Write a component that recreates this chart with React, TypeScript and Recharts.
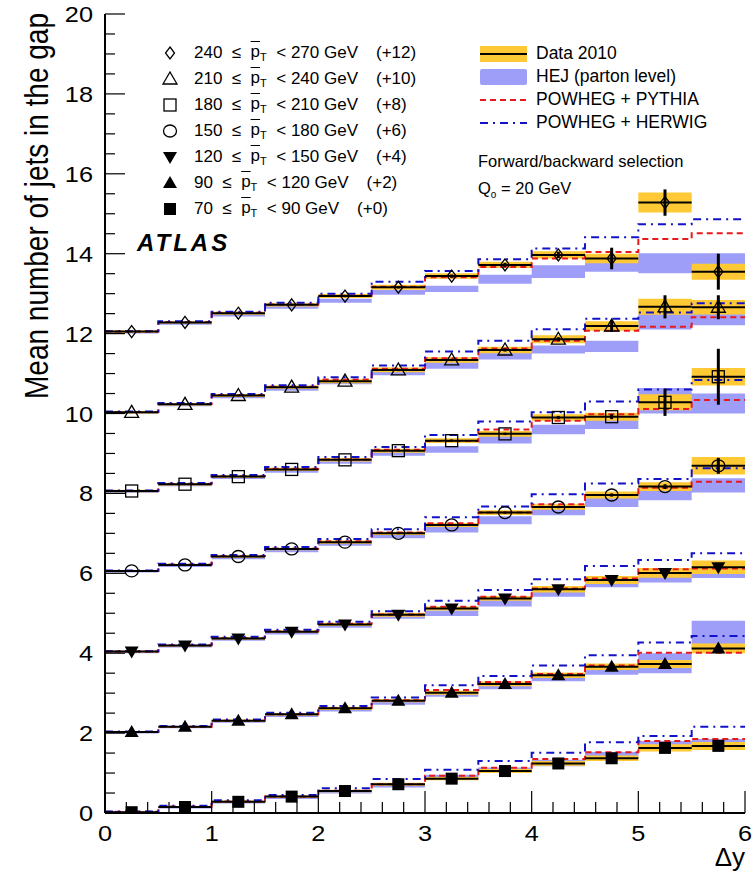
import React from "react";
import { ComposedChart, Area, Line, Scatter, ErrorBar, XAxis, YAxis } from "recharts";

// bins in rapidity separation
const binEdges = [0, 0.5, 1, 1.5, 2, 2.5, 3, 3.5, 4, 4.5, 5, 5.5, 6];
const binCenters = [0.25, 0.75, 1.25, 1.75, 2.25, 2.75, 3.25, 3.75, 4.25, 4.75, 5.25, 5.75];
const binHalfWidth = 0.25;

const xTicks = Array.from({ length: 31 }, (_, i) => Math.round(i * 2) / 10);
const yTicks = Array.from({ length: 41 }, (_, i) => i / 2);

// 70 <= pT < 90 GeV (+0)
const data70 = [0.02, 0.15, 0.28, 0.41, 0.55, 0.72, 0.86, 1.05, 1.24, 1.37, 1.63, 1.68];
const sys70 = [0.02, 0.02, 0.03, 0.03, 0.03, 0.04, 0.04, 0.05, 0.06, 0.07, 0.09, 0.1];
const stat70 = [0.01, 0.01, 0.01, 0.01, 0.01, 0.01, 0.02, 0.02, 0.02, 0.03, 0.03, 0.04];
const pythia70 = [0.03, 0.16, 0.29, 0.41, 0.56, 0.72, 0.93, 1.13, 1.35, 1.52, 1.8, 1.85];
const herwig70 = [0.04, 0.18, 0.32, 0.45, 0.62, 0.85, 1.08, 1.3, 1.51, 1.77, 1.93, 2.16];
const hej70 = [0.02, 0.14, 0.27, 0.39, 0.53, 0.69, 0.9, 1.07, 1.25, 1.45, 1.7, 1.75];
const hejErr70 = [0.03, 0.03, 0.03, 0.04, 0.04, 0.05, 0.06, 0.07, 0.08, 0.08, 0.1, 0.1];

// 90 <= pT < 120 GeV (+2)
const data90 = [0.03, 0.16, 0.31, 0.47, 0.62, 0.81, 1.01, 1.23, 1.45, 1.66, 1.73, 2.12];
const sys90 = [0.02, 0.02, 0.03, 0.03, 0.04, 0.04, 0.05, 0.06, 0.07, 0.08, 0.1, 0.12];
const stat90 = [0.01, 0.01, 0.01, 0.01, 0.01, 0.01, 0.02, 0.02, 0.02, 0.03, 0.04, 0.05];
const pythia90 = [0.03, 0.16, 0.31, 0.47, 0.63, 0.82, 1.08, 1.28, 1.48, 1.69, 2.01, 2.01];
const herwig90 = [0.04, 0.18, 0.34, 0.51, 0.68, 0.89, 1.2, 1.43, 1.69, 1.95, 2.27, 2.43];
const hej90 = [0.02, 0.15, 0.29, 0.44, 0.58, 0.76, 0.98, 1.18, 1.4, 1.58, 1.75, 2.45];
const hejErr90 = [0.03, 0.03, 0.03, 0.04, 0.04, 0.05, 0.07, 0.08, 0.1, 0.12, 0.25, 0.36];

// 120 <= pT < 150 GeV (+4)
const data120 = [0.04, 0.19, 0.37, 0.54, 0.72, 0.96, 1.12, 1.37, 1.6, 1.83, 2.01, 2.15];
const sys120 = [0.02, 0.02, 0.03, 0.03, 0.04, 0.05, 0.05, 0.06, 0.08, 0.1, 0.12, 0.17];
const stat120 = [0.01, 0.01, 0.01, 0.01, 0.01, 0.02, 0.02, 0.02, 0.03, 0.03, 0.05, 0.06];
const pythia120 = [0.04, 0.2, 0.38, 0.55, 0.74, 0.97, 1.16, 1.41, 1.62, 1.87, 2.1, 2.12];
const herwig120 = [0.05, 0.22, 0.41, 0.59, 0.79, 1.05, 1.31, 1.58, 1.85, 2.18, 2.33, 2.5];
const hej120 = [0.03, 0.17, 0.35, 0.51, 0.69, 0.91, 1.0, 1.25, 1.5, 1.75, 1.87, 2.0];
const hejErr120 = [0.03, 0.03, 0.04, 0.04, 0.05, 0.05, 0.07, 0.08, 0.09, 0.1, 0.1, 0.12];

// 150 <= pT < 180 GeV (+6)
const data150 = [0.06, 0.21, 0.42, 0.61, 0.78, 1.0, 1.21, 1.52, 1.66, 1.96, 2.17, 2.69];
const sys150 = [0.02, 0.03, 0.03, 0.03, 0.04, 0.04, 0.05, 0.06, 0.07, 0.09, 0.11, 0.22];
const stat150 = [0.01, 0.01, 0.01, 0.01, 0.02, 0.02, 0.02, 0.03, 0.03, 0.04, 0.06, 0.2];
const pythia150 = [0.06, 0.22, 0.43, 0.62, 0.8, 1.02, 1.25, 1.52, 1.73, 1.96, 2.14, 2.29];
const herwig150 = [0.07, 0.24, 0.46, 0.66, 0.86, 1.1, 1.4, 1.67, 1.98, 2.25, 2.36, 2.63];
const hej150 = [0.05, 0.19, 0.39, 0.57, 0.74, 0.94, 1.1, 1.33, 1.55, 1.78, 1.97, 2.2];
const hejErr150 = [0.03, 0.03, 0.04, 0.04, 0.05, 0.06, 0.08, 0.1, 0.1, 0.12, 0.14, 0.18];

// 180 <= pT < 210 GeV (+8)
const data180 = [0.06, 0.23, 0.42, 0.6, 0.84, 1.07, 1.32, 1.49, 1.9, 1.92, 2.28, 2.92];
const sys180 = [0.03, 0.03, 0.03, 0.04, 0.04, 0.05, 0.06, 0.07, 0.08, 0.1, 0.2, 0.22];
const stat180 = [0.01, 0.01, 0.01, 0.02, 0.02, 0.02, 0.03, 0.03, 0.04, 0.06, 0.34, 0.7];
const pythia180 = [0.06, 0.24, 0.43, 0.62, 0.85, 1.09, 1.31, 1.6, 1.82, 1.98, 2.11, 2.34];
const herwig180 = [0.07, 0.26, 0.46, 0.66, 0.91, 1.16, 1.46, 1.8, 2.03, 2.3, 2.6, 2.84];
const hej180 = [0.04, 0.21, 0.4, 0.57, 0.79, 1.0, 1.1, 1.35, 1.6, 1.73, 2.32, 2.25];
const hejErr180 = [0.03, 0.03, 0.04, 0.05, 0.05, 0.06, 0.08, 0.1, 0.12, 0.12, 0.32, 0.25];

// 210 <= pT < 240 GeV (+10)
const data210 = [0.03, 0.23, 0.45, 0.66, 0.81, 1.09, 1.34, 1.59, 1.86, 2.19, 2.67, 2.66];
const sys210 = [0.03, 0.03, 0.04, 0.04, 0.05, 0.06, 0.07, 0.08, 0.1, 0.12, 0.2, 0.18];
const stat210 = [0.01, 0.01, 0.02, 0.02, 0.02, 0.03, 0.03, 0.04, 0.05, 0.15, 0.29, 0.3];
const pythia210 = [0.04, 0.24, 0.46, 0.67, 0.85, 1.12, 1.38, 1.63, 1.82, 2.07, 2.17, 2.41];
const herwig210 = [0.05, 0.26, 0.49, 0.71, 0.91, 1.2, 1.55, 1.82, 2.11, 2.37, 2.53, 2.76];
const hej210 = [0.02, 0.21, 0.42, 0.62, 0.78, 1.02, 1.2, 1.45, 1.6, 1.68, 2.3, 2.35];
const hejErr210 = [0.03, 0.03, 0.04, 0.05, 0.05, 0.06, 0.08, 0.1, 0.1, 0.14, 0.2, 0.14];

// 240 <= pT < 270 GeV (+12)
const data240 = [0.05, 0.28, 0.51, 0.72, 0.94, 1.16, 1.44, 1.72, 1.97, 1.88, 3.28, 1.55];
const sys240 = [0.03, 0.03, 0.04, 0.04, 0.05, 0.06, 0.07, 0.08, 0.09, 0.12, 0.25, 0.2];
const stat240 = [0.01, 0.02, 0.02, 0.02, 0.03, 0.03, 0.04, 0.05, 0.08, 0.27, 0.33, 0.45];
const pythia240 = [0.05, 0.29, 0.52, 0.73, 0.95, 1.17, 1.41, 1.67, 1.88, 2.04, 2.37, 2.51];
const herwig240 = [0.06, 0.31, 0.55, 0.77, 1.0, 1.3, 1.57, 1.86, 2.13, 2.41, 2.74, 2.86];
const hej240 = [0.03, 0.25, 0.47, 0.67, 0.82, 1.03, 1.12, 1.36, 1.55, 1.7, 1.76, 1.76];
const hejErr240 = [0.03, 0.03, 0.04, 0.05, 0.05, 0.06, 0.08, 0.11, 0.16, 0.15, 0.25, 0.25];

const groups = [
  { id: "g70", lo: 70, hi: 90, offset: 0, marker: "squareFilled", mean: data70, sys: sys70, stat: stat70, pythia: pythia70, herwig: herwig70, hej: hej70, hejErr: hejErr70 },
  { id: "g90", lo: 90, hi: 120, offset: 2, marker: "triUpFilled", mean: data90, sys: sys90, stat: stat90, pythia: pythia90, herwig: herwig90, hej: hej90, hejErr: hejErr90 },
  { id: "g120", lo: 120, hi: 150, offset: 4, marker: "triDownFilled", mean: data120, sys: sys120, stat: stat120, pythia: pythia120, herwig: herwig120, hej: hej120, hejErr: hejErr120 },
  { id: "g150", lo: 150, hi: 180, offset: 6, marker: "circleOpen", mean: data150, sys: sys150, stat: stat150, pythia: pythia150, herwig: herwig150, hej: hej150, hejErr: hejErr150 },
  { id: "g180", lo: 180, hi: 210, offset: 8, marker: "squareOpen", mean: data180, sys: sys180, stat: stat180, pythia: pythia180, herwig: herwig180, hej: hej180, hejErr: hejErr180 },
  { id: "g210", lo: 210, hi: 240, offset: 10, marker: "triUpOpen", mean: data210, sys: sys210, stat: stat210, pythia: pythia210, herwig: herwig210, hej: hej210, hejErr: hejErr210 },
  { id: "g240", lo: 240, hi: 270, offset: 12, marker: "diamondOpen", mean: data240, sys: sys240, stat: stat240, pythia: pythia240, herwig: herwig240, hej: hej240, hejErr: hejErr240 },
];

// one row per bin edge, last edge repeats the last bin (for stepAfter)
const table = binEdges.map((x, i) => {
  const b = Math.min(i, binCenters.length - 1);
  const row: any = { x };
  groups.forEach((g) => {
    const o = g.offset;
    row[`sys_${g.id}`] = [g.mean[b] - g.sys[b] + o, g.mean[b] + g.sys[b] + o];
    row[`hej_${g.id}`] = [g.hej[b] - g.hejErr[b] + o, g.hej[b] + g.hejErr[b] + o];
    row[`py_${g.id}`] = g.pythia[b] + o;
    row[`hw_${g.id}`] = g.herwig[b] + o;
  });
  return row;
});

const points = (g: any) =>
  binCenters.map((x, i) => ({ x, y: g.mean[i] + g.offset, ex: binHalfWidth, ey: g.stat[i] }));

const FONT = "'Liberation Sans', Arial, Helvetica, sans-serif";
const YELLOW = "#ffc935";
const LAVENDER = "#9e9ef9";
const RED = "#e8191c";
const BLUE = "#1212c8";

function Marker({ kind, cx, cy }: { kind: string; cx: number; cy: number }) {
  const k = { stroke: "#000", strokeWidth: 1.3 };
  switch (kind) {
    case "squareFilled":
      return <rect x={cx - 6} y={cy - 6} width={12} height={12} fill="#000" />;
    case "triUpFilled":
      return <polygon points={`${cx - 7},${cy + 5} ${cx + 7},${cy + 5} ${cx},${cy - 7}`} fill="#000" />;
    case "triDownFilled":
      return <polygon points={`${cx - 7},${cy - 5} ${cx + 7},${cy - 5} ${cx},${cy + 7}`} fill="#000" />;
    case "circleOpen":
      return <ellipse cx={cx} cy={cy} rx={6.5} ry={6} fill="none" {...k} />;
    case "squareOpen":
      return <rect x={cx - 6} y={cy - 6} width={12} height={12} fill="none" {...k} />;
    case "triUpOpen":
      return <polygon points={`${cx - 7},${cy + 5} ${cx + 7},${cy + 5} ${cx},${cy - 7}`} fill="none" {...k} />;
    default:
      return <polygon points={`${cx},${cy - 6} ${cx + 4.5},${cy} ${cx},${cy + 6} ${cx - 4.5},${cy}`} fill="none" {...k} />;
  }
}

const isInt = (v: number) => Math.abs(v - Math.round(v)) < 1e-6;

function BottomTick(p: any) {
  const v = p.payload.value;
  const major = isInt(v);
  return (
    <g>
      <line x1={p.x} y1={p.y} x2={p.x} y2={p.y - (major ? 22 : 11)} stroke="#000" strokeWidth={1.2} />
      {major && (
        <text transform={`translate(${p.x},${p.y + 28}) scale(1.15,1)`} textAnchor="middle" fontSize={22}
          fontFamily={FONT} fill="#000">
          {Math.round(v)}
        </text>
      )}
    </g>
  );
}

function TopTick(p: any) {
  const major = isInt(p.payload.value);
  return <line x1={p.x} y1={p.y} x2={p.x} y2={p.y + (major ? 22 : 11)} stroke="#000" strokeWidth={1.2} />;
}

function LeftTick(p: any) {
  const v = p.payload.value;
  const major = isInt(v / 2);
  return (
    <g>
      <line x1={p.x} y1={p.y} x2={p.x + (major ? 20 : 10)} y2={p.y} stroke="#000" strokeWidth={1.2} />
      {major && (
        <text transform={`translate(${p.x - 12},${p.y + 8}) scale(1.15,1)`} textAnchor="end" fontSize={22}
          fontFamily={FONT} fill="#000">
          {Math.round(v)}
        </text>
      )}
    </g>
  );
}

function RightTick(p: any) {
  const major = isInt(p.payload.value / 2);
  return <line x1={p.x} y1={p.y} x2={p.x - (major ? 20 : 10)} y2={p.y} stroke="#000" strokeWidth={1.2} />;
}

const axisLine = { stroke: "#000", strokeWidth: 2 };

function PtBar() {
  return (
    <span>
      <span style={{ textDecoration: "overline" }}>p</span>
      <sub style={{ fontSize: 11 }}>T</sub>
    </span>
  );
}

export default function App() {
  const legendGroups = [...groups].reverse();
  return (
    <div style={{ position: "absolute", left: 0, top: 0, width: 755, height: 873, background: "#fff", fontFamily: FONT }}>
      <ComposedChart width={755} height={873} data={table} margin={{ top: 14, right: 10, bottom: 0, left: 0 }}>
        <XAxis dataKey="x" type="number" domain={[0, 6]} ticks={xTicks} interval={0} allowDataOverflow height={60}
          tickSize={0} tickMargin={0} tickLine={false} axisLine={axisLine} tick={(p: any) => <BottomTick {...p} />} />
        <XAxis xAxisId="top" orientation="top" dataKey="x" type="number" domain={[0, 6]} ticks={xTicks} interval={0}
          allowDataOverflow height={0} tickSize={0} tickMargin={0} tickLine={false} axisLine={axisLine}
          tick={(p: any) => <TopTick {...p} />} />
        <YAxis type="number" domain={[0, 20]} ticks={yTicks} interval={0} allowDataOverflow width={105}
          tickSize={0} tickMargin={0} tickLine={false} axisLine={axisLine} tick={(p: any) => <LeftTick {...p} />} />
        <YAxis yAxisId="right" orientation="right" type="number" domain={[0, 20]} ticks={yTicks} interval={0}
          allowDataOverflow width={0} tickSize={0} tickMargin={0} tickLine={false} axisLine={axisLine}
          tick={(p: any) => <RightTick {...p} />} />

        {groups.map((g) => (
          <Area key={`hej${g.id}`} type="stepAfter" dataKey={`hej_${g.id}`} fill={LAVENDER} fillOpacity={1}
            stroke="none" isAnimationActive={false} />
        ))}
        {groups.map((g) => (
          <Area key={`sys${g.id}`} type="stepAfter" dataKey={`sys_${g.id}`} fill={YELLOW} fillOpacity={1}
            stroke="none" isAnimationActive={false} />
        ))}
        {groups.map((g) => (
          <Line key={`py${g.id}`} type="stepAfter" dataKey={`py_${g.id}`} stroke={RED} strokeWidth={2}
            strokeDasharray="6 4" dot={false} isAnimationActive={false} />
        ))}
        {groups.map((g) => (
          <Line key={`hw${g.id}`} type="stepAfter" dataKey={`hw_${g.id}`} stroke={BLUE} strokeWidth={2}
            strokeDasharray="8 5 2 5" dot={false} isAnimationActive={false} />
        ))}
        {groups.map((g) => (
          <Scatter key={`d${g.id}`} data={points(g)} dataKey="y" isAnimationActive={false}
            shape={(p: any) => <Marker kind={g.marker} cx={p.cx} cy={p.cy} />}>
            <ErrorBar dataKey="ex" direction="x" width={0} stroke="#000" strokeWidth={2} />
            <ErrorBar dataKey="ey" direction="y" width={0} stroke="#000" strokeWidth={3} />
          </Scatter>
        ))}
      </ComposedChart>

      {/* y-axis title */}
      <div style={{ position: "absolute", left: 37, top: 206, transform: "translate(-50%, -50%) rotate(-90deg) scaleY(1.2)",
        fontFamily: FONT, fontSize: 28, whiteSpace: "nowrap", lineHeight: "30px" }}>
        Mean number of jets in the gap
      </div>
      <div style={{ position: "absolute", right: 10, top: 842, fontSize: 26, lineHeight: "30px" }}>Δy</div>

      {/* pT bin legend */}
      {legendGroups.map((g, i) => (
        <div key={g.id} style={{ position: "absolute", left: 160, top: 42 + i * 26, height: 22, display: "flex", alignItems: "center", fontSize: 17, whiteSpace: "pre" }}>
          <svg width={20} height={20} style={{ marginRight: 14 }}>
            <Marker kind={g.marker} cx={10} cy={10} />
          </svg>
          <span>{`${g.lo}  ≤  `}</span>
          <PtBar />
          <span>{`  < ${g.hi} GeV`}</span>
          <span style={{ marginLeft: 18 }}>{`(+${g.offset})`}</span>
        </div>
      ))}

      {/* model legend */}
      <div style={{ position: "absolute", left: 480, top: 42, fontSize: 17.5 }}>
        <div style={{ display: "flex", alignItems: "center", height: 23 }}>
          <svg width={48} height={18} style={{ marginRight: 8 }}>
            <rect x={0} y={1} width={47} height={16} fill={YELLOW} />
            <line x1={0} y1={9} x2={47} y2={9} stroke="#000" strokeWidth={2} />
          </svg>
          Data 2010
        </div>
        <div style={{ display: "flex", alignItems: "center", height: 23 }}>
          <svg width={48} height={18} style={{ marginRight: 8 }}>
            <rect x={0} y={1} width={47} height={16} rx={2} fill={LAVENDER} />
          </svg>
          HEJ (parton level)
        </div>
        <div style={{ display: "flex", alignItems: "center", height: 23 }}>
          <svg width={48} height={18} style={{ marginRight: 8 }}>
            <line x1={0} y1={9} x2={47} y2={9} stroke={RED} strokeWidth={2} strokeDasharray="6 4" />
          </svg>
          POWHEG + PYTHIA
        </div>
        <div style={{ display: "flex", alignItems: "center", height: 23 }}>
          <svg width={48} height={18} style={{ marginRight: 8 }}>
            <line x1={0} y1={9} x2={47} y2={9} stroke={BLUE} strokeWidth={2} strokeDasharray="8 5 2 5" />
          </svg>
          POWHEG + HERWIG
        </div>
      </div>
      <div style={{ position: "absolute", left: 478, top: 152, fontSize: 16.5 }}>Forward/backward selection</div>
      <div style={{ position: "absolute", left: 478, top: 179, fontSize: 16.5 }}>
        Q<sub style={{ fontSize: 10 }}>o</sub> = 20 GeV
      </div>
      <div style={{ position: "absolute", left: 137, top: 229, fontSize: 24, fontWeight: "bold", fontStyle: "italic", letterSpacing: 3 }}>
        ATLAS
      </div>
    </div>
  );
}
